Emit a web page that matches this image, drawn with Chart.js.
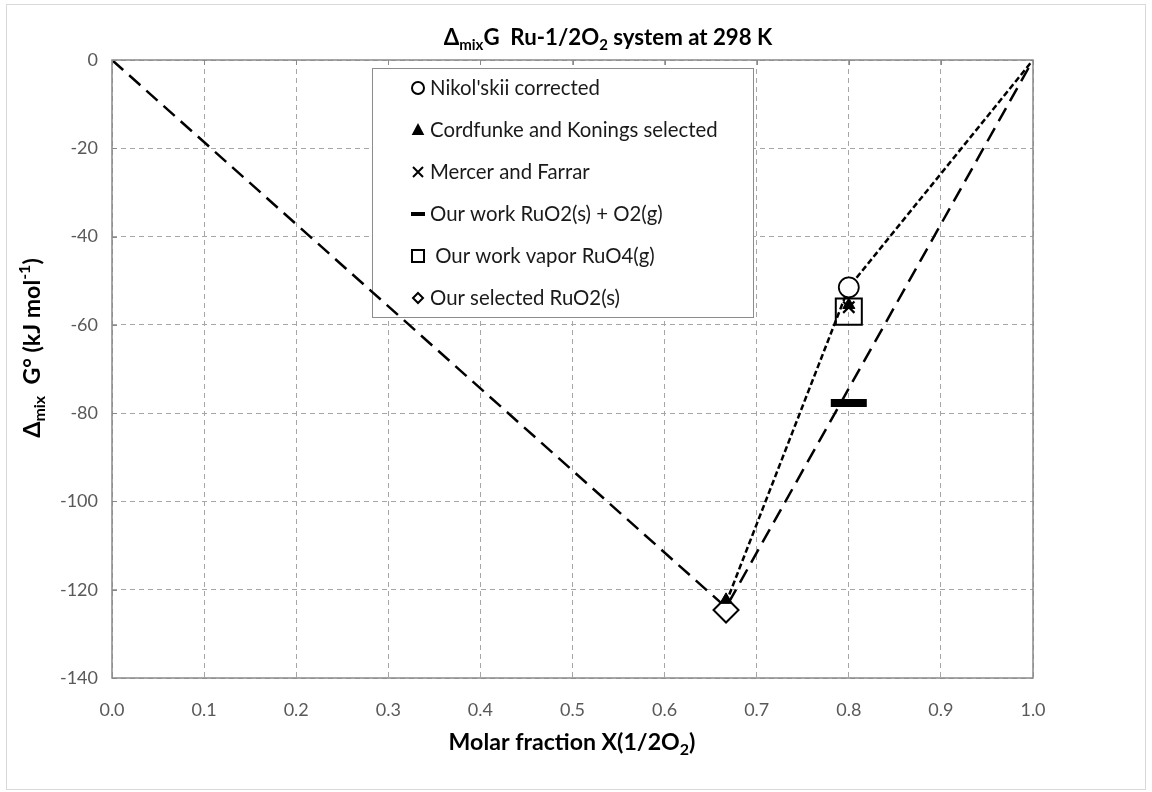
<!DOCTYPE html>
<html>
<head>
<meta charset="utf-8">
<script src="https://cdn.jsdelivr.net/npm/chart.js@4.4.1/dist/chart.umd.min.js"></script>
<style>
  html, body { margin: 0; padding: 0; background: #fff; }
  #wrap { width: 1152px; height: 792px; }
</style>
</head>
<body>
<div id="wrap"><canvas id="chart" width="1152" height="792"></canvas></div>
<script>
// values
const nikolskiiX = [0.8];
const nikolskiiY = [-51.5];
const cordfunkeX = [0.6667, 0.8];
const cordfunkeY = [-122.3, -55.5];
const mercerX = [0.8];
const mercerY = [-56];
const ourWorkX = [0.8];
const ourWorkY = [-77.7];
const vaporX = [0.8];
const vaporY = [-57];
const selectedX = [0.6667];
const selectedY = [-124.6];
// guide lines
const longDashX = [0, 0.6667, 1];
const longDashY = [0, -124, 0];
const shortDashX = [0.6667, 0.8, 1];
const shortDashY = [-123, -51.5, 0];

const xTickLabels = ["0.0", "0.1", "0.2", "0.3", "0.4", "0.5", "0.6", "0.7", "0.8", "0.9", "1.0"];
const yTickValues = [-140, -120, -100, -80, -60, -40, -20, 0];
const yTickLabels = ["-140", "-120", "-100", "-80", "-60", "-40", "-20", "0"];

const legendNames = [
  "Nikol'skii corrected",
  "Cordfunke and Konings selected",
  "Mercer and Farrar",
  "Our work RuO2(s) + O2(g)",
  " Our work vapor RuO4(g)",
  "Our selected RuO2(s)"
];

const FONT = "Lato, 'Open Sans', sans-serif";
const W = 1152, H = 792;
const plotLeft = 112, plotTop = 60, plotRight = 1033, plotBottom = 678;

function pts(xs, ys) {
  return xs.map((x, i) => ({ x: x, y: ys[i] }));
}

function runsWidth(ctx, runs, size, weight) {
  let total = 0;
  runs.forEach(r => {
    const s = (r.sub || r.sup) ? Math.round(size * 0.68) : size;
    ctx.font = weight + " " + s + "px " + FONT;
    total += ctx.measureText(r.t).width;
  });
  return total;
}

// font size that makes the runs about `target` px wide
function fitSize(ctx, runs, target, weight) {
  return 20 * target / runsWidth(ctx, runs, 20, weight);
}

// text with sub / superscript runs, centred on x
function drawRuns(ctx, runs, x, y, size, weight) {
  const small = Math.round(size * 0.68);
  let cx = x - runsWidth(ctx, runs, size, weight) / 2;
  ctx.textBaseline = "middle";
  ctx.textAlign = "left";
  runs.forEach(r => {
    ctx.font = weight + " " + ((r.sub || r.sup) ? small : size) + "px " + FONT;
    let dy = 0;
    if (r.sub) dy = size * 0.3;
    if (r.sup) dy = -size * 0.35;
    ctx.fillText(r.t, cx, y + dy);
    cx += ctx.measureText(r.t).width;
  });
}

function marker(ctx, style, x, y, r) {
  ctx.save();
  ctx.strokeStyle = "#000";
  ctx.fillStyle = "#000";
  ctx.beginPath();
  if (style === "circle") {
    ctx.lineWidth = 2;
    ctx.arc(x, y, r, 0, Math.PI * 2);
    ctx.stroke();
  } else if (style === "triangle") {
    ctx.moveTo(x, y - r);
    ctx.lineTo(x + r * 0.9, y + r * 0.7);
    ctx.lineTo(x - r * 0.9, y + r * 0.7);
    ctx.closePath();
    ctx.fill();
  } else if (style === "cross") {
    ctx.lineWidth = 2;
    ctx.moveTo(x - r, y - r); ctx.lineTo(x + r, y + r);
    ctx.moveTo(x + r, y - r); ctx.lineTo(x - r, y + r);
    ctx.stroke();
  } else if (style === "dash") {
    ctx.fillRect(x - r, y - 2, r * 2, 4);
  } else if (style === "square") {
    ctx.lineWidth = 2;
    ctx.strokeRect(x - r, y - r, r * 2, r * 2);
  } else if (style === "diamond") {
    ctx.lineWidth = 2;
    ctx.moveTo(x, y - r); ctx.lineTo(x + r, y); ctx.lineTo(x, y + r); ctx.lineTo(x - r, y);
    ctx.closePath();
    ctx.stroke();
  }
  ctx.restore();
}

const titleRuns = [
  { t: "\u0394" }, { t: "mix", sub: true }, { t: "G  Ru-1/2O" }, { t: "2", sub: true },
  { t: " system at 298 K" }
];
const xTitleRuns = [{ t: "Molar fraction X(1/2O" }, { t: "2", sub: true }, { t: ")" }];
const yTitleRuns = [
  { t: "\u0394" }, { t: "mix", sub: true }, { t: "  G\u00b0 (kJ mol" }, { t: "-1", sup: true },
  { t: ")" }
];

const decor = {
  id: "decor",
  beforeDraw(chart) {
    const ctx = chart.ctx;
    ctx.save();
    ctx.fillStyle = "#fff";
    ctx.fillRect(0, 0, W, H);
    ctx.strokeStyle = "#d9d9d9";
    ctx.lineWidth = 1;
    ctx.strokeRect(6.5, 4.5, W - 13, H - 7);
    ctx.restore();
  },
  beforeDatasetsDraw(chart) {
    // legend box sits over the grid but under the series
    const ctx = chart.ctx;
    const bx = 372, by = 68, bw = 381, bh = 249;
    ctx.save();
    ctx.fillStyle = "#fff";
    ctx.fillRect(bx, by, bw, bh);
    ctx.strokeStyle = "#8c8c8c";
    ctx.lineWidth = 1;
    ctx.strokeRect(bx + 0.5, by + 0.5, bw, bh);
    const styles = ["circle", "triangle", "cross", "dash", "square", "diamond"];
    const sizes = [6, 7, 5, 7, 6, 5];
    const legSize = fitSize(ctx, [{ t: legendNames[0] }], 170, "normal");
    legendNames.forEach((name, i) => {
      const ry = 88 + i * 42;
      marker(ctx, styles[i], 418, ry, sizes[i]);
      ctx.fillStyle = "#1a1a1a";
      ctx.font = legSize + "px " + FONT;
      ctx.textAlign = "left";
      ctx.textBaseline = "middle";
      ctx.fillText(name, 430, ry);
    });
    ctx.restore();
  },
  afterDraw(chart) {
    const ctx = chart.ctx;
    const a = chart.chartArea;
    ctx.save();
    // plot frame
    ctx.strokeStyle = "#898989";
    ctx.lineWidth = 1.5;
    ctx.strokeRect(a.left, a.top, a.right - a.left, a.bottom - a.top);
    // small inside ticks on top and left
    ctx.lineWidth = 1;
    ctx.beginPath();
    chart.scales.x.ticks.forEach(t => {
      const px = Math.round(chart.scales.x.getPixelForValue(t.value)) + 0.5;
      ctx.moveTo(px, a.top); ctx.lineTo(px, a.top + 5);
    });
    chart.scales.y.ticks.forEach(t => {
      const py = Math.round(chart.scales.y.getPixelForValue(t.value)) + 0.5;
      ctx.moveTo(a.left, py); ctx.lineTo(a.left + 5, py);
    });
    ctx.stroke();

    ctx.fillStyle = "#000";
    const tSize = fitSize(ctx, titleRuns, 330, "bold");
    drawRuns(ctx, titleRuns, 608, 38, tSize, "bold");
    const axSize = fitSize(ctx, xTitleRuns, 247, "bold");
    drawRuns(ctx, xTitleRuns, 572, 743, axSize, "bold");
    ctx.translate(33, 348);
    ctx.rotate(-Math.PI / 2);
    drawRuns(ctx, yTitleRuns, 0, 0, axSize, "bold");
    ctx.restore();
  }
};

new Chart(document.getElementById("chart"), {
  type: "scatter",
  data: {
    datasets: [
      {
        label: "Cordfunke and Konings selected",
        data: pts(cordfunkeX, cordfunkeY),
        pointStyle: "triangle", pointRadius: 7,
        backgroundColor: "#000", borderColor: "#000", borderWidth: 1,
        order: 0
      },
      {
        label: "Mercer and Farrar",
        data: pts(mercerX, mercerY),
        pointStyle: "crossRot", pointRadius: 8,
        backgroundColor: "#000", borderColor: "#000", borderWidth: 2.2,
        order: 1
      },
      {
        label: "Nikol'skii corrected",
        data: pts(nikolskiiX, nikolskiiY),
        pointStyle: "circle", pointRadius: 10,
        backgroundColor: "#fff", borderColor: "#000", borderWidth: 1.8,
        order: 2
      },
      {
        label: "Our work vapor RuO4(g)",
        data: pts(vaporX, vaporY),
        pointStyle: "rect", pointRadius: 18.4,
        backgroundColor: "rgba(0,0,0,0)", borderColor: "#000", borderWidth: 2,
        order: 3
      },
      {
        label: "Our work RuO2(s) + O2(g)",
        data: pts(ourWorkX, ourWorkY),
        pointStyle: "line", pointRadius: 18,
        backgroundColor: "#000", borderColor: "#000", borderWidth: 8,
        order: 4
      },
      {
        label: "Our selected RuO2(s)",
        data: pts(selectedX, selectedY),
        pointStyle: "rectRot", pointRadius: 12.5,
        backgroundColor: "#fff", borderColor: "#000", borderWidth: 2,
        order: 5
      },
      {
        label: "short dash",
        data: pts(shortDashX, shortDashY),
        showLine: true, pointRadius: 0,
        borderColor: "#000", borderWidth: 2.5, borderDash: [6, 3],
        order: 10
      },
      {
        label: "long dash",
        data: pts(longDashX, longDashY),
        showLine: true, pointRadius: 0,
        borderColor: "#000", borderWidth: 2.5, borderDash: [15, 8],
        order: 11
      }
    ]
  },
  options: {
    responsive: false,
    animation: false,
    events: [],
    layout: { padding: { left: 0, top: plotTop, right: W - plotRight, bottom: 0 } },
    plugins: {
      legend: { display: false },
      tooltip: { enabled: false },
      title: { display: false }
    },
    scales: {
      x: {
        type: "linear", min: 0, max: 1,
        afterFit: s => { s.height = H - plotBottom; },
        ticks: {
          stepSize: 0.1, autoSkip: false, maxRotation: 0, padding: 21,
          color: "#595959", font: { family: FONT, size: 18 },
          callback: (v, i) => xTickLabels[i]
        },
        grid: { color: "#a6a6a6", lineWidth: 1, drawTicks: false },
        border: { display: false, dash: [5, 4] }
      },
      y: {
        type: "linear", min: -140, max: 0,
        afterFit: s => { s.width = plotLeft; },
        ticks: {
          stepSize: 20, padding: 14,
          color: "#595959", font: { family: FONT, size: 18 },
          callback: v => yTickLabels[yTickValues.indexOf(v)]
        },
        grid: { color: "#a6a6a6", lineWidth: 1, drawTicks: false },
        border: { display: false, dash: [5, 4] }
      }
    }
  },
  plugins: [decor]
});
</script>
</body>
</html>
